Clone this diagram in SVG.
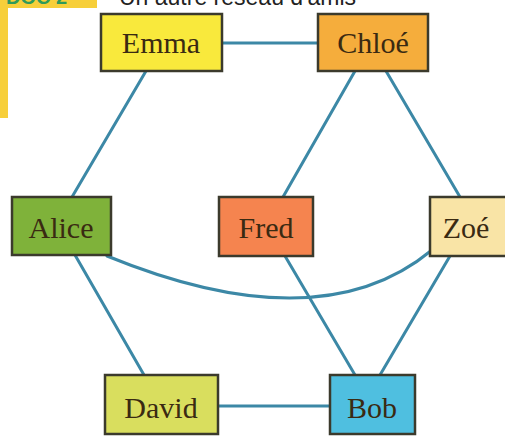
<svg xmlns="http://www.w3.org/2000/svg" width="505" height="439" viewBox="0 0 505 439">
<style>
.box{stroke:#3b3a2c;stroke-width:2.5}
.lbl{font-family:"Liberation Serif","DejaVu Serif",serif;font-size:30px;fill:#3a2a12;text-anchor:middle}
.edge{stroke:#3c88a6;stroke-width:3;fill:none;stroke-linecap:round}
</style>
<rect width="505" height="439" fill="#ffffff"/>
<g id="header">
<rect x="0" y="0" width="97" height="8" fill="#f7cf3a"/>
<rect x="0" y="0" width="8" height="118" fill="#f7cf3a"/>
<text x="6" y="4" font-family="Liberation Sans, sans-serif" font-weight="bold" font-size="20" fill="#2f9a5a">DOC 2</text>
<text x="119" y="5" font-family="Liberation Sans, sans-serif" font-size="23" fill="#222">Un autre réseau d'amis</text>
</g>
<g id="connectors">
<line class="edge" x1="222" y1="43" x2="318" y2="43"/>
<line class="edge" x1="146" y1="71" x2="72" y2="197"/>
<line class="edge" x1="355" y1="71" x2="283" y2="197"/>
<line class="edge" x1="386" y1="71" x2="460" y2="197"/>
<path class="edge" d="M107,256 Q320,343 432,250"/>
<line class="edge" x1="75" y1="255" x2="144" y2="375"/>
<line class="edge" x1="285" y1="256" x2="355" y2="375"/>
<line class="edge" x1="450" y1="256" x2="380" y2="375"/>
<line class="edge" x1="218" y1="406" x2="330" y2="406"/>
</g>
<g id="emma"><rect class="box" x="101" y="14" width="121" height="57" fill="#f9e93c"/><text class="lbl" x="161" y="53">Emma</text></g>
<g id="chloe"><rect class="box" x="318" y="14" width="110" height="57" fill="#f5ad3c"/><text class="lbl" x="373" y="53">Chloé</text></g>
<g id="alice"><rect class="box" x="12" y="197" width="99" height="58" fill="#7fb23a"/><text class="lbl" x="61" y="238">Alice</text></g>
<g id="fred"><rect class="box" x="219" y="197" width="94" height="59" fill="#f5844f"/><text class="lbl" x="266" y="238">Fred</text></g>
<g id="zoe"><rect class="box" x="430" y="197" width="80" height="59" fill="#f9e4a6"/><text class="lbl" x="466" y="238">Zoé</text></g>
<g id="david"><rect class="box" x="105" y="375" width="113" height="59" fill="#d9de5e"/><text class="lbl" x="161" y="418">David</text></g>
<g id="bob"><rect class="box" x="330" y="375" width="85" height="59" fill="#4fbfe0"/><text class="lbl" x="372" y="418">Bob</text></g>
</svg>
